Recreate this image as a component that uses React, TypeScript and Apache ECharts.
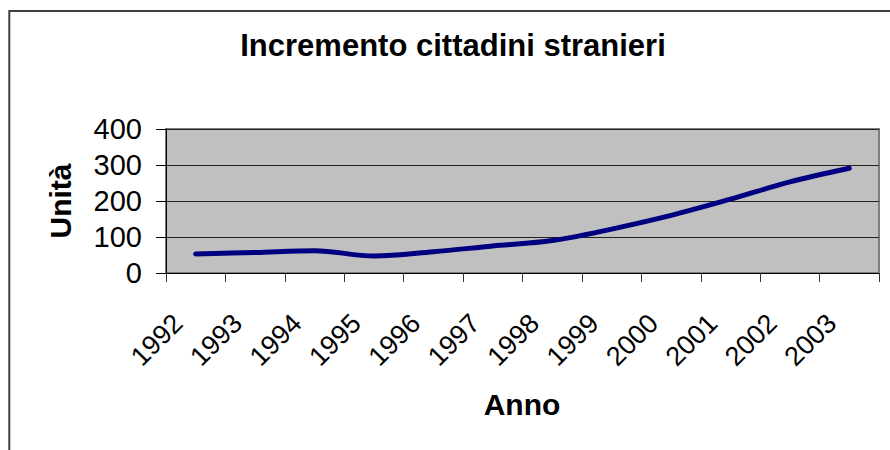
import React, { useEffect, useRef } from "react";
import * as echarts from "echarts";

const years = ["1992", "1993", "1994", "1995", "1996", "1997", "1998", "1999", "2000", "2001", "2002", "2003"];
const values = [53, 57, 62, 47, 59, 75, 90, 122, 160, 205, 253, 291];
const yTicks = { min: 0, max: 400, interval: 100 };
const titleText = "Incremento cittadini stranieri";
const xName = "Anno";
const yName = "Unità";

const FONT = '"Liberation Sans", Arial, sans-serif';

export default function App() {
  const ref = useRef<HTMLDivElement>(null);
  useEffect(() => {
    if (!ref.current) return;
    const chart = echarts.init(ref.current, null, { renderer: "svg" });
    chart.setOption({
      animation: false,
      backgroundColor: "#ffffff",
      grid: {
        left: 166,
        right: 11,
        top: 129,
        bottom: 177,
        show: true,
        backgroundColor: "#C0C0C0",
        borderColor: "#808080",
        borderWidth: 2,
      },
      graphic: [
        {
          type: "rect",
          shape: { x: 9.3, y: 11, width: 2000, height: 2000 },
          style: { fill: "none", stroke: "#404040", lineWidth: 2 },
          silent: true,
        },
        {
          type: "text",
          x: 453,
          y: 45,
          style: {
            text: titleText,
            font: `bold 31px ${FONT}`,
            fill: "#000",
            textAlign: "center",
            textVerticalAlign: "middle",
          },
        },
        {
          type: "text",
          x: 522,
          y: 404,
          style: {
            text: xName,
            font: `bold 30px ${FONT}`,
            fill: "#000",
            textAlign: "center",
            textVerticalAlign: "middle",
          },
        },
        {
          type: "text",
          x: 60,
          y: 201,
          rotation: Math.PI / 2,
          style: {
            text: yName,
            font: `bold 30px ${FONT}`,
            fill: "#000",
            textAlign: "center",
            textVerticalAlign: "middle",
          },
        },
      ],
      xAxis: {
        type: "category",
        data: years,
        boundaryGap: true,
        axisLine: { show: true, lineStyle: { color: "#000", width: 1 } },
        axisTick: { show: true, length: 9, inside: false, lineStyle: { color: "#333", width: 1 } },
        axisLabel: {
          interval: 0,
          rotate: 45,
          margin: 28,
          padding: [0, 25, 0, 0],
          fontSize: 27,
          fontFamily: FONT,
          color: "#000",
        },
        splitLine: { show: false },
      },
      yAxis: {
        type: "value",
        min: yTicks.min,
        max: yTicks.max,
        interval: yTicks.interval,
        axisLine: { show: true, lineStyle: { color: "#000", width: 1 } },
        axisTick: { show: true, length: 10, lineStyle: { color: "#000", width: 1 } },
        axisLabel: {
          margin: 24,
          fontSize: 29,
          fontFamily: FONT,
          color: "#000",
        },
        splitLine: { show: true, lineStyle: { color: "#222", width: 1 } },
      },
      series: [
        {
          type: "line",
          data: values,
          smooth: 0.35,
          showSymbol: false,
          lineStyle: { color: "#000080", width: 5, cap: "round", join: "round" },
        },
      ],
    });
    return () => chart.dispose();
  }, []);
  return (
    <div
      ref={ref}
      style={{ position: "absolute", left: 0, top: 0, width: 890, height: 450 }}
    />
  );
}
